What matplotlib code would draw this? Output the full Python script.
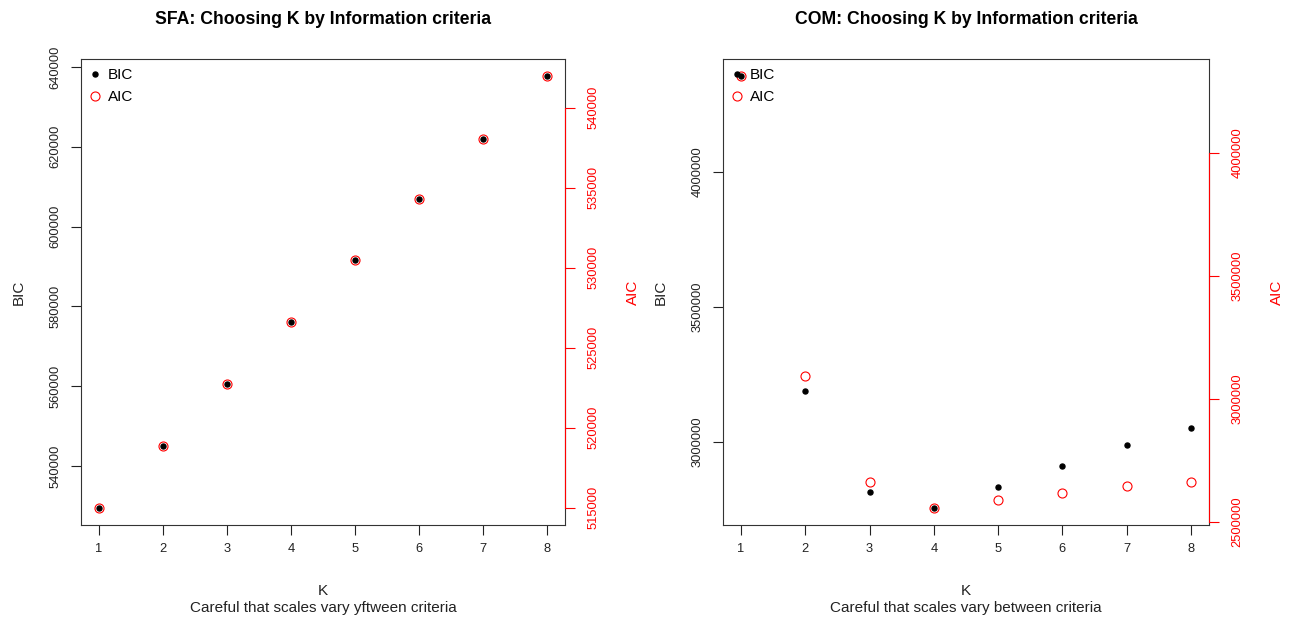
import matplotlib
matplotlib.use("Agg")
import matplotlib.pyplot as plt
from matplotlib.ticker import FuncFormatter
from matplotlib.lines import Line2D

plt.rcParams['font.family'] = ['Liberation Sans', 'DejaVu Sans']

# values
K = [1, 2, 3, 4, 5, 6, 7, 8]
sfa_bic = [529550, 545010, 560550, 576090, 591620, 606910, 621950, 637660]
sfa_aic = [515000, 518850, 522730, 526600, 530480, 534290, 538040, 541960]
com_bic = [4354600, 3188900, 2814800, 2756650, 2833300, 2911100, 2988900, 3051900]
com_aic = [4311800, 3093500, 2662600, 2558100, 2589400, 2617900, 2646300, 2662600]

sfa_bic_ticks = [540000, 560000, 580000, 600000, 620000, 640000]
sfa_aic_ticks = [515000, 520000, 525000, 530000, 535000, 540000]
com_bic_ticks = [3000000, 3500000, 4000000]
com_aic_ticks = [2500000, 3000000, 3500000, 4000000]

titles = ["SFA: Choosing K by Information criteria",
          "COM: Choosing K by Information criteria"]
subtitles = ["Careful that scales vary yftween criteria",
             "Careful that scales vary between criteria"]


def r_lim(v):
    # R's default 4% extension of the data range
    lo, hi = min(v), max(v)
    d = (hi - lo) * 0.04
    return lo - d, hi + d


W, H = 1293, 621
fig = plt.figure(figsize=(W / 100, H / 100), dpi=100)
fmt = FuncFormatter(lambda v, p: "%d" % v)
TFS = 9.3   # tick labels
LFS = 11    # axis labels, legend, subtitle
INK = '#222222'

panels = [
    (81, 565, sfa_bic, sfa_aic, sfa_bic_ticks, sfa_aic_ticks),
    (723, 1209, com_bic, com_aic, com_bic_ticks, com_aic_ticks),
]

for i, (x0, x1, bic, aic, bt, at) in enumerate(panels):
    ax = fig.add_axes([x0 / W, (H - 525) / H, (x1 - x0) / W, 466 / H])
    ax.plot(K, bic, 'o', color='black', markersize=3.6, linestyle='none')
    ax.set_xlim(*r_lim(K))
    ax.set_ylim(*r_lim(bic))
    ax.set_xticks(K)
    ax.set_yticks(bt)
    ax.yaxis.set_major_formatter(fmt)
    ax.tick_params(axis='both', direction='out', length=7, width=0.8,
                   labelsize=TFS, colors=INK)
    ax.tick_params(axis='x', pad=6)
    ax.tick_params(axis='y', labelrotation=90, pad=7)
    for lbl in ax.get_yticklabels():
        lbl.set_va('center')
    for s in ax.spines.values():
        s.set_color('#333333')
        s.set_linewidth(0.8)
    ax.set_xlabel("K", fontsize=LFS, labelpad=20.5, color=INK)
    ax.set_ylabel("BIC", fontsize=LFS, labelpad=17, color=INK)
    ax.set_title(titles[i], fontsize=12.7, fontweight='bold', pad=25.5)
    ax.text(0.5, -0.178, subtitles[i], transform=ax.transAxes,
            ha='center', va='center', fontsize=LFS, color=INK)

    ax2 = ax.twinx()
    ax2.plot(K, aic, 'o', markerfacecolor='none', markeredgecolor='red',
             markersize=6.5, markeredgewidth=0.8, linestyle='none')
    ax2.set_ylim(*r_lim(aic))
    ax2.set_yticks(at)
    ax2.yaxis.set_major_formatter(fmt)
    ax2.tick_params(axis='y', direction='out', length=7, width=0.8,
                    labelsize=TFS, colors='red', labelrotation=90, pad=9)
    for lbl in ax2.get_yticklabels():
        lbl.set_va('center')
    for name, s in ax2.spines.items():
        s.set_visible(name == 'right')
    ax2.spines['right'].set_color('red')
    ax2.spines['right'].set_linewidth(0.8)
    ax2.spines['right'].set_bounds(at[0], at[-1])
    ax2.set_ylabel("AIC", fontsize=LFS, color='red', labelpad=19)

    handles = [
        Line2D([], [], marker='o', color='black', markersize=3.6, linestyle='none'),
        Line2D([], [], marker='o', markerfacecolor='none', markeredgecolor='red',
               markersize=6.5, markeredgewidth=0.8, linestyle='none'),
    ]
    ax2.legend(handles, ["BIC", "AIC"], loc='upper left', frameon=False,
               fontsize=LFS, handlelength=0.6, handletextpad=0.55,
               labelspacing=0.5, borderaxespad=0.17, borderpad=0.45)

fig.savefig("out.png", dpi=100)
